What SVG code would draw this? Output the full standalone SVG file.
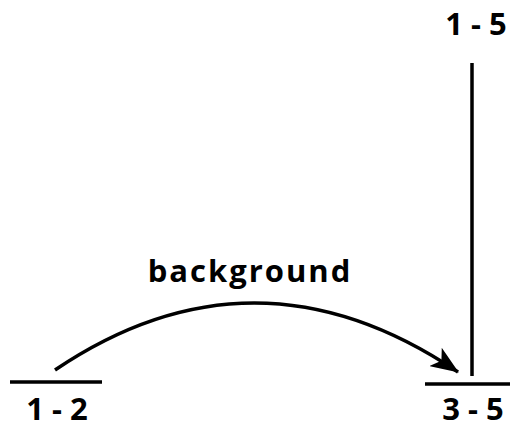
<svg xmlns="http://www.w3.org/2000/svg" width="510" height="429" viewBox="0 0 510 429">
<style>
text{font-family:"Open Sans","DejaVu Sans",sans-serif;font-weight:bold;fill:#000}
.lvl{stroke:#000;stroke-width:3.5;fill:none}
.num{font-size:31px}
</style>
<defs>
<marker id="ah" viewBox="0 0 28 22" refX="27" refY="11" markerWidth="28" markerHeight="22" markerUnits="userSpaceOnUse" orient="auto">
<path d="M0,0 L28,11 L0,22 L7,11 Z" fill="#000"/>
</marker>
</defs>
<rect width="510" height="429" fill="#fff"/>
<g id="level-1-2">
<line class="lvl" x1="10" y1="382" x2="102" y2="382"/>
<text class="num" x="57" y="420" text-anchor="middle">1 - 2</text>
</g>
<g id="level-3-5">
<line class="lvl" x1="425" y1="384" x2="510" y2="384"/>
<text class="num" x="473" y="420" text-anchor="middle">3 - 5</text>
</g>
<g id="level-1-5">
<text class="num" x="476" y="35" text-anchor="middle">1 - 5</text>
</g>
<g id="connectors">
<line class="lvl" x1="472" y1="63" x2="472" y2="376"/>
<path class="lvl" d="M55,370 Q255,235 458,372" marker-end="url(#ah)"/>
<text x="250" y="282" font-size="31" text-anchor="middle" letter-spacing="2">background</text>
</g>
</svg>
